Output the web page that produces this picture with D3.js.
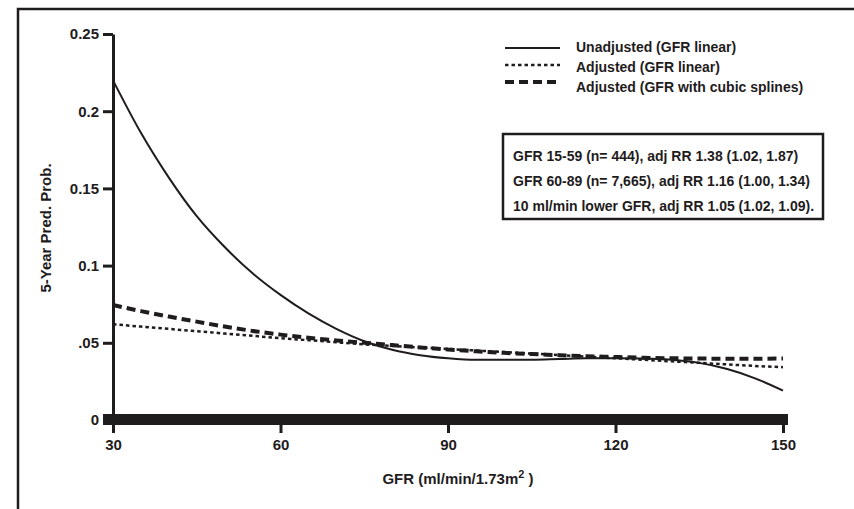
<!DOCTYPE html>
<html>
<head>
<meta charset="utf-8">
<script src="https://cdn.jsdelivr.net/npm/d3@7"></script>
<style>
  body { margin: 0; background: #fff; }
  svg { display: block; }
  text { font-family: "Liberation Sans Narrow", "Liberation Sans", sans-serif; font-weight: bold; fill: #1f1c1d; }
</style>
</head>
<body>
<svg id="chart" width="854" height="509"></svg>
<script>
"use strict";

// GFR (ml/min/1.73m2) sampled every 5 units
var gfr = [30, 35, 40, 45, 50, 55, 60, 65, 70, 75, 80, 85, 90, 95, 100, 105, 110, 115, 120, 125, 130, 135, 140, 145, 150];

var unadjusted = [0.220, 0.186, 0.157, 0.132, 0.112, 0.095, 0.081, 0.069, 0.059, 0.051, 0.0455, 0.042, 0.040, 0.039, 0.039, 0.039, 0.0395, 0.040, 0.040, 0.0398, 0.039, 0.037, 0.033, 0.027, 0.019];
var adjustedLinear = [0.0620, 0.0605, 0.0590, 0.0575, 0.0560, 0.0545, 0.0530, 0.0517, 0.0503, 0.0490, 0.0480, 0.0470, 0.0460, 0.0450, 0.0440, 0.0430, 0.0420, 0.0410, 0.0400, 0.0390, 0.0380, 0.0370, 0.0360, 0.0350, 0.0342];
var adjustedSpline = [0.0745, 0.0705, 0.0670, 0.0637, 0.0605, 0.0577, 0.0553, 0.0533, 0.0515, 0.0500, 0.0485, 0.0470, 0.0457, 0.0445, 0.0435, 0.0427, 0.0420, 0.0413, 0.0408, 0.0403, 0.0400, 0.0398, 0.0397, 0.0397, 0.0398];

var xTicks = [30, 60, 90, 120, 150];
var yTicks = [0, 0.05, 0.1, 0.15, 0.2, 0.25];
var yTickLabels = ["0", ".05", "0.1", "0.15", "0.2", "0.25"];

var legendLabels = ["Unadjusted (GFR linear)", "Adjusted (GFR linear)", "Adjusted (GFR with cubic splines)"];
var noteLines = [
    "GFR 15-59 (n= 444), adj RR 1.38 (1.02, 1.87)",
    "GFR 60-89 (n= 7,665), adj RR 1.16 (1.00, 1.34)",
    "10 ml/min lower GFR, adj RR 1.05 (1.02, 1.09)."
];

var svg = d3.select("#chart");
var ink = "#1f1c1d";

var x = d3.scaleLinear().domain([30, 150]).range([113, 783]);
var y = d3.scaleLinear().domain([0, 0.25]).range([420, 34]);

// outer frame (top and left edges only visible)
svg.append("path")
    .attr("d", "M18,509V9H854")
    .attr("fill", "none")
    .attr("stroke", ink)
    .attr("stroke-width", 2.5);

// y axis
var yAxis = svg.append("g")
    .attr("transform", "translate(" + x(30) + ",0)")
    .call(d3.axisLeft(y)
        .tickValues(yTicks)
        .tickFormat(function (d, i) { return yTickLabels[i]; })
        .tickSize(10)
        .tickSizeOuter(0)
        .tickPadding(4));
yAxis.attr("font-family", null).attr("font-size", null);
yAxis.select(".domain").attr("stroke", ink).attr("stroke-width", 3);
yAxis.selectAll(".tick line").attr("stroke", ink).attr("stroke-width", 3);
yAxis.selectAll(".tick text").style("font-size", "15px").attr("fill", ink);

// x axis: thick bar plus ticks beneath
var xAxis = svg.append("g")
    .attr("transform", "translate(0," + y(0) + ")")
    .call(d3.axisBottom(x)
        .tickValues(xTicks)
        .tickSize(13)
        .tickSizeOuter(0)
        .tickPadding(6));
xAxis.attr("font-family", null).attr("font-size", null);
xAxis.select(".domain").remove();
xAxis.selectAll(".tick line").attr("stroke", ink).attr("stroke-width", 3);
xAxis.selectAll(".tick text").style("font-size", "15px").attr("fill", ink);

svg.append("rect")
    .attr("x", x(30) - 10)
    .attr("y", y(0) - 6)
    .attr("width", x(150) - x(30) + 15)
    .attr("height", 11)
    .attr("fill", ink);

// axis titles
svg.append("text")
    .attr("transform", "translate(51,228) rotate(-90)")
    .attr("text-anchor", "middle")
    .style("font-size", "15px")
    .text("5-Year Pred. Prob.");

var xTitle = svg.append("text")
    .attr("x", 458)
    .attr("y", 484)
    .attr("text-anchor", "middle")
    .style("font-size", "15px");
xTitle.append("tspan").text("GFR (ml/min/1.73m");
xTitle.append("tspan").attr("dy", -6).style("font-size", "11px").text("2");
xTitle.append("tspan").attr("dy", 6).text(" )");

// curves
var series = [
    { values: unadjusted, width: 2, dash: null },
    { values: adjustedLinear, width: 2.5, dash: "3.5,3" },
    { values: adjustedSpline, width: 4, dash: "9,5" }
];

var line = d3.line()
    .curve(d3.curveMonotoneX)
    .x(function (d) { return x(d[0]); })
    .y(function (d) { return y(d[1]); });

series.forEach(function (s) {
    svg.append("path")
        .datum(gfr.map(function (g, i) { return [g, s.values[i]]; }))
        .attr("fill", "none")
        .attr("stroke", ink)
        .attr("stroke-width", s.width)
        .attr("stroke-dasharray", s.dash)
        .attr("d", line);
});

// legend
var legendY = [48, 65, 82];
series.forEach(function (s, i) {
    svg.append("line")
        .attr("x1", 505).attr("x2", 560)
        .attr("y1", legendY[i]).attr("y2", legendY[i])
        .attr("stroke", ink)
        .attr("stroke-width", s.width)
        .attr("stroke-dasharray", s.dash);
    svg.append("text")
        .attr("x", 576)
        .attr("y", legendY[i] + 4 + i * 3)
        .style("font-size", "14px")
        .text(legendLabels[i]);
});

// note box
svg.append("rect")
    .attr("x", 503).attr("y", 134)
    .attr("width", 320).attr("height", 85)
    .attr("fill", "none")
    .attr("stroke", ink)
    .attr("stroke-width", 2.5);

noteLines.forEach(function (t, i) {
    svg.append("text")
        .attr("x", 513)
        .attr("y", 161 + i * 25)
        .style("font-size", "14px")
        .text(t);
});
</script>
</body>
</html>
